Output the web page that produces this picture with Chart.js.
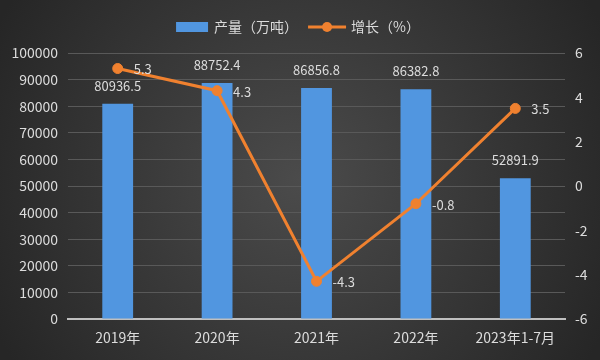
<!DOCTYPE html>
<html>
<head>
<meta charset="utf-8">
<script src="https://cdn.jsdelivr.net/npm/chart.js@4/dist/chart.umd.min.js"></script>
<style>
html,body{margin:0;padding:0;background:#2b2b2b;}
#wrap{width:600px;height:360px;position:relative;}
</style>
</head>
<body>
<div id="wrap"><canvas id="c" width="600" height="360"></canvas></div>
<script>
// ---- data ----
const categories = ['2019年', '2020年', '2021年', '2022年', '2023年1-7月'];
const outputValues = [80936.5, 88752.4, 86856.8, 86382.8, 52891.9];
const growthValues = [5.3, 4.3, -4.3, -0.8, 3.5];
const outputLabel = '产量（万吨）';
const growthLabel = '增长（%）';
const leftTicks = [0, 10000, 20000, 30000, 40000, 50000, 60000, 70000, 80000, 90000, 100000];
const rightTicks = [-6, -4, -2, 0, 2, 4, 6];

// ---- styles ----
const FONT = '"Noto Sans CJK SC", "Noto Sans", sans-serif';
const TEXT = '#dcdcdc';
const BAR = '#5196e0';
const LINE = '#f0812f';

const bgPlugin = {
  id: 'bg',
  beforeDraw(chart) {
    const ctx = chart.ctx, w = chart.width, h = chart.height;
    const g = ctx.createRadialGradient(w / 2, h / 2, 0, w / 2, h / 2, 340);
    g.addColorStop(0, '#4b4b4b');
    g.addColorStop(1, '#262626');
    ctx.save();
    ctx.fillStyle = g;
    ctx.fillRect(0, 0, w, h);
    ctx.restore();
  }
};

const labelPlugin = {
  id: 'valueLabels',
  afterDatasetsDraw(chart) {
    const ctx = chart.ctx;
    ctx.save();
    ctx.font = '13px ' + FONT;
    ctx.fillStyle = TEXT;
    ctx.textBaseline = 'middle';
    const barMeta = chart.getDatasetMeta(0);
    ctx.textAlign = 'center';
    barMeta.data.forEach((el, i) => {
      ctx.fillText(String(outputValues[i]), el.x, el.y - 18);
    });
    const lineMeta = chart.getDatasetMeta(1);
    ctx.textAlign = 'left';
    lineMeta.data.forEach((el, i) => {
      ctx.fillText(String(growthValues[i]), el.x + 16, el.y + 1);
    });
    ctx.restore();
  }
};

const legendPlugin = {
  id: 'customLegend',
  afterDraw(chart) {
    const ctx = chart.ctx;
    ctx.save();
    ctx.font = '14px ' + FONT;
    ctx.textBaseline = 'middle';
    const y = 27;
    const w1 = ctx.measureText(outputLabel).width;
    const w2 = ctx.measureText(growthLabel).width;
    const total = 32 + 6 + w1 + 10 + 38 + 5 + w2;
    let x = 298 - total / 2;
    // bar swatch
    ctx.fillStyle = BAR;
    ctx.fillRect(x, y - 5, 32, 10);
    x += 32 + 6;
    ctx.fillStyle = TEXT;
    ctx.textAlign = 'left';
    ctx.fillText(outputLabel, x, y);
    x += w1 + 10;
    // line swatch
    ctx.strokeStyle = LINE;
    ctx.lineWidth = 3;
    ctx.beginPath();
    ctx.moveTo(x, y);
    ctx.lineTo(x + 38, y);
    ctx.stroke();
    ctx.fillStyle = LINE;
    ctx.beginPath();
    ctx.arc(x + 19, y, 5, 0, Math.PI * 2);
    ctx.fill();
    x += 38 + 5;
    ctx.fillStyle = TEXT;
    ctx.fillText(growthLabel, x, y);
    ctx.restore();
  }
};

new Chart(document.getElementById('c'), {
  data: {
    labels: categories,
    datasets: [
      {
        type: 'bar',
        label: outputLabel,
        data: outputValues,
        yAxisID: 'y',
        backgroundColor: BAR,
        barPercentage: 0.31,
        categoryPercentage: 1.0,
        order: 2
      },
      {
        type: 'line',
        label: growthLabel,
        data: growthValues,
        yAxisID: 'y1',
        borderColor: LINE,
        backgroundColor: LINE,
        borderWidth: 3,
        pointRadius: 5,
        pointBackgroundColor: LINE,
        pointBorderColor: LINE,
        pointBorderWidth: 1,
        tension: 0,
        order: 1
      }
    ]
  },
  options: {
    responsive: false,
    animation: false,
    devicePixelRatio: 1,
    layout: { padding: { top: 53, left: 0, right: 0, bottom: 0 } },
    plugins: {
      legend: { display: false },
      tooltip: { enabled: false }
    },
    scales: {
      x: {
        grid: { display: false, drawTicks: false },
        border: { display: true, color: '#bfbfbf', width: 2 },
        ticks: { color: TEXT, font: { size: 14, family: FONT }, padding: 10, maxRotation: 0 },
        afterFit(s) { s.height = 41; }
      },
      y: {
        position: 'left',
        min: leftTicks[0],
        max: leftTicks[leftTicks.length - 1],
        afterBuildTicks(s) { s.ticks = leftTicks.map(v => ({ value: v })); },
        grid: { color: '#595959', lineWidth: 1, drawTicks: false },
        border: { display: false },
        ticks: { color: TEXT, font: { size: 14, family: FONT }, padding: 10, callback: v => String(v) },
        afterFit(s) { s.width = 68; }
      },
      y1: {
        position: 'right',
        min: rightTicks[0],
        max: rightTicks[rightTicks.length - 1],
        afterBuildTicks(s) { s.ticks = rightTicks.map(v => ({ value: v })); },
        grid: { display: false, drawTicks: false },
        border: { display: false },
        ticks: { color: TEXT, font: { size: 14, family: FONT }, padding: 10, callback: v => String(v) },
        afterFit(s) { s.width = 35; }
      }
    }
  },
  plugins: [bgPlugin, labelPlugin, legendPlugin]
});
</script>
</body>
</html>
